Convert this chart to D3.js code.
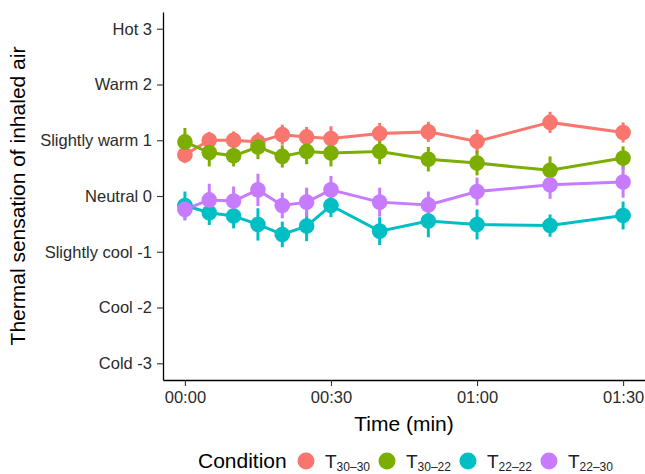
<!DOCTYPE html>
<html>
<head>
<meta charset="utf-8">
<script src="https://cdn.jsdelivr.net/npm/d3@7"></script>
<style>
  html, body { margin: 0; padding: 0; background: #fff; }
  svg { display: block; font-family: 'Liberation Sans', Arial, Helvetica, sans-serif; }
</style>
</head>
<body>
<div class="chart"></div>
<script>
var times = [0, 5, 10, 15, 20, 25, 30, 40, 50, 60, 75, 90]
var conditions = ['30–30', '30–22', '22–22', '22–30']
var colors = ['#F8766D', '#7CAE00', '#00BFC4', '#C77CFF']
var meanT3030 = [0.74, 1.0, 1.0, 0.97, 1.1, 1.06, 1.03, 1.12, 1.15, 0.98, 1.32, 1.14]
var meanT3022 = [0.97, 0.78, 0.72, 0.88, 0.71, 0.8, 0.77, 0.8, 0.66, 0.59, 0.46, 0.68]
var meanT2222 = [-0.17, -0.3, -0.36, -0.51, -0.69, -0.54, -0.17, -0.63, -0.45, -0.51, -0.53, -0.35]
var meanT2230 = [-0.24, -0.07, -0.09, 0.11, -0.17, -0.11, 0.11, -0.11, -0.16, 0.08, 0.2, 0.25]
var errT3030 = [0.15, 0.15, 0.16, 0.17, 0.18, 0.18, 0.22, 0.19, 0.18, 0.21, 0.19, 0.18]
var errT3022 = [0.25, 0.25, 0.19, 0.22, 0.2, 0.23, 0.24, 0.23, 0.22, 0.22, 0.25, 0.21]
var errT2222 = [0.25, 0.22, 0.22, 0.29, 0.23, 0.27, 0.21, 0.25, 0.29, 0.27, 0.2, 0.25]
var errT2230 = [0.2, 0.29, 0.26, 0.29, 0.23, 0.26, 0.25, 0.26, 0.24, 0.25, 0.25, 0.28]
var xTicks = [0, 30, 60, 90]
var yTicks = [3, 2, 1, 0, -1, -2, -3]
var yTickLabels = ['Hot 3', 'Warm 2', 'Slightly warm 1', 'Neutral 0', 'Slightly cool -1', 'Cool -2', 'Cold -3']

;(function () {
  var W = 645
  var H = 474
  var svg = d3.select('.chart').append('svg')
    .attr('width', W)
    .attr('height', H)

  var means = [meanT3030, meanT3022, meanT2222, meanT2230]
  var errs = [errT3030, errT3022, errT2222, errT2230]

  // build series from the arrays
  var series = conditions.map(function (c, i) {
    return {
      name: c,
      color: colors[i],
      points: times.map(function (t, j) {
        return { t: t, v: means[i][j], e: errs[i][j] }
      })
    }
  })

  var x = d3.scaleLinear().domain([-4.5, 94.5]).range([163, 645])
  var y = d3.scaleLinear().domain([-3.3, 3.3]).range([380, 12])

  function pad (n) {
    return (n < 10 ? '0' : '') + n
  }

  function fmtTime (s) {
    return pad(Math.floor(s / 60)) + ':' + pad(s % 60)
  }

  // Axes
  var gx = svg.append('g')
    .attr('transform', 'translate(0,' + y.range()[0] + ')')
    .call(d3.axisBottom(x).tickValues(xTicks).tickFormat(fmtTime).tickSize(6).tickSizeOuter(0).tickPadding(5))
  var gy = svg.append('g')
    .attr('transform', 'translate(' + x.range()[0] + ',0)')
    .call(d3.axisLeft(y).tickValues(yTicks).tickFormat(function (d, i) { return yTickLabels[i] }).tickSize(6).tickSizeOuter(0).tickPadding(5))

  ;[gx, gy].forEach(function (g) {
    g.select('.domain').attr('stroke', '#000').attr('stroke-width', 1.3)
    g.selectAll('.tick line').attr('stroke', '#333').attr('stroke-width', 1.1)
    g.selectAll('.tick text')
      .attr('fill', '#2b2b2b')
      .style('font-size', '16.5px')
      .style('font-family', "'Liberation Sans', Arial, sans-serif")
  })

  // Axis titles
  svg.append('text')
    .attr('x', (x.range()[0] + x.range()[1]) / 2)
    .attr('y', 431)
    .attr('text-anchor', 'middle')
    .style('font-size', '21px')
    .text('Time (min)')

  svg.append('text')
    .attr('transform', 'translate(25,' + (y.range()[0] + y.range()[1]) / 2 + ') rotate(-90)')
    .attr('text-anchor', 'middle')
    .style('font-size', '21px')
    .text('Thermal sensation of inhaled air')

  var line = d3.line()
    .x(function (d) { return x(d.t) })
    .y(function (d) { return y(d.v) })

  // Lines
  svg.append('g').selectAll('path')
    .data(series)
    .enter().append('path')
    .attr('d', function (s) { return line(s.points) })
    .attr('fill', 'none')
    .attr('stroke', function (s) { return s.color })
    .attr('stroke-width', 3)

  // Error bars
  series.forEach(function (s) {
    svg.append('g').selectAll('line')
      .data(s.points)
      .enter().append('line')
      .attr('x1', function (d) { return x(d.t) })
      .attr('x2', function (d) { return x(d.t) })
      .attr('y1', function (d) { return y(d.v - d.e) })
      .attr('y2', function (d) { return y(d.v + d.e) })
      .attr('stroke', s.color)
      .attr('stroke-width', 3)
  })

  // Points
  series.forEach(function (s) {
    svg.append('g').selectAll('circle')
      .data(s.points)
      .enter().append('circle')
      .attr('cx', function (d) { return x(d.t) })
      .attr('cy', function (d) { return y(d.v) })
      .attr('r', 7.8)
      .attr('fill', s.color)
  })

  // Legend
  var legend = svg.append('g').attr('transform', 'translate(0,461)')
  legend.append('text')
    .attr('x', 198)
    .attr('y', 7)
    .style('font-size', '21px')
    .text('Condition')

  var cx = 306
  series.forEach(function (s) {
    legend.append('circle')
      .attr('cx', cx)
      .attr('cy', 0)
      .attr('r', 8.5)
      .attr('fill', s.color)
    var label = legend.append('text')
      .attr('x', cx + 19)
      .attr('y', 7)
      .attr('fill', '#222')
    label.append('tspan').style('font-size', '19px').text('T')
    label.append('tspan').attr('dy', 3).style('font-size', '12px').text(s.name)
    cx = cx + 19 + label.node().getComputedTextLength() + 17
  })
})()
</script>
</body>
</html>
